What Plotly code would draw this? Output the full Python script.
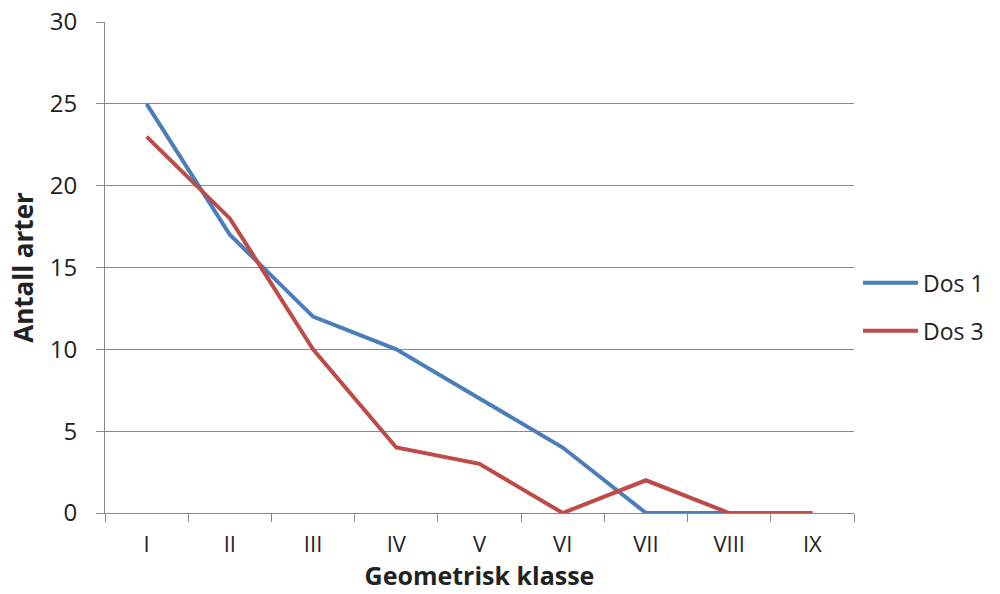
import plotly.graph_objects as go

categories = ["I", "II", "III", "IV", "V", "VI", "VII", "VIII", "IX"]
dos1 = [25, 17, 12, 10, 7, 4, 0, 0, 0]
dos3 = [23, 18, 10, 4, 3, 0, 2, 0, 0]

FONT = "Open Sans"
GRID = "#888888"

fig = go.Figure()
fig.add_trace(go.Scatter(x=categories, y=dos1, mode="lines", name="Dos 1",
                         line=dict(color="#4A7EBB", width=4), legendgroup="a"))
fig.add_trace(go.Scatter(x=categories, y=dos3, mode="lines", name="Dos 3",
                         line=dict(color="#BE4B48", width=4), legendgroup="b"))

fig.update_layout(
    width=1000, height=594,
    margin=dict(l=105, r=145, t=22, b=81),
    paper_bgcolor="white", plot_bgcolor="white",
    font=dict(family=FONT, size=24, color="#222222"),
    legend=dict(x=1.004, y=0.42, xanchor="left", yanchor="middle",
                font=dict(size=23, family=FONT), itemwidth=55,
                tracegroupgap=15, bgcolor="rgba(0,0,0,0)", borderwidth=0),
    xaxis=dict(type="category", tickson="boundaries", ticks="outside", ticklen=8,
               tickcolor=GRID, showline=True, linecolor=GRID, linewidth=1,
               showgrid=False, tickfont=dict(size=22), automargin=False,
               ticklabelstandoff=12,
               title=dict(text="<b>Geometrisk klasse</b>", font=dict(size=25), standoff=8),
               range=[-0.5, 8.5]),
    yaxis=dict(range=[0, 30], dtick=5, ticks="outside", ticklen=8, tickcolor=GRID,
               showline=True, linecolor=GRID, linewidth=1, showgrid=True,
               gridcolor=GRID, gridwidth=1, zeroline=False, tickfont=dict(size=24),
               automargin=False, ticklabelstandoff=14,
               title=dict(text="<b>Antall arter</b>", font=dict(size=26), standoff=8)),
)
fig.write_html("out.html")
